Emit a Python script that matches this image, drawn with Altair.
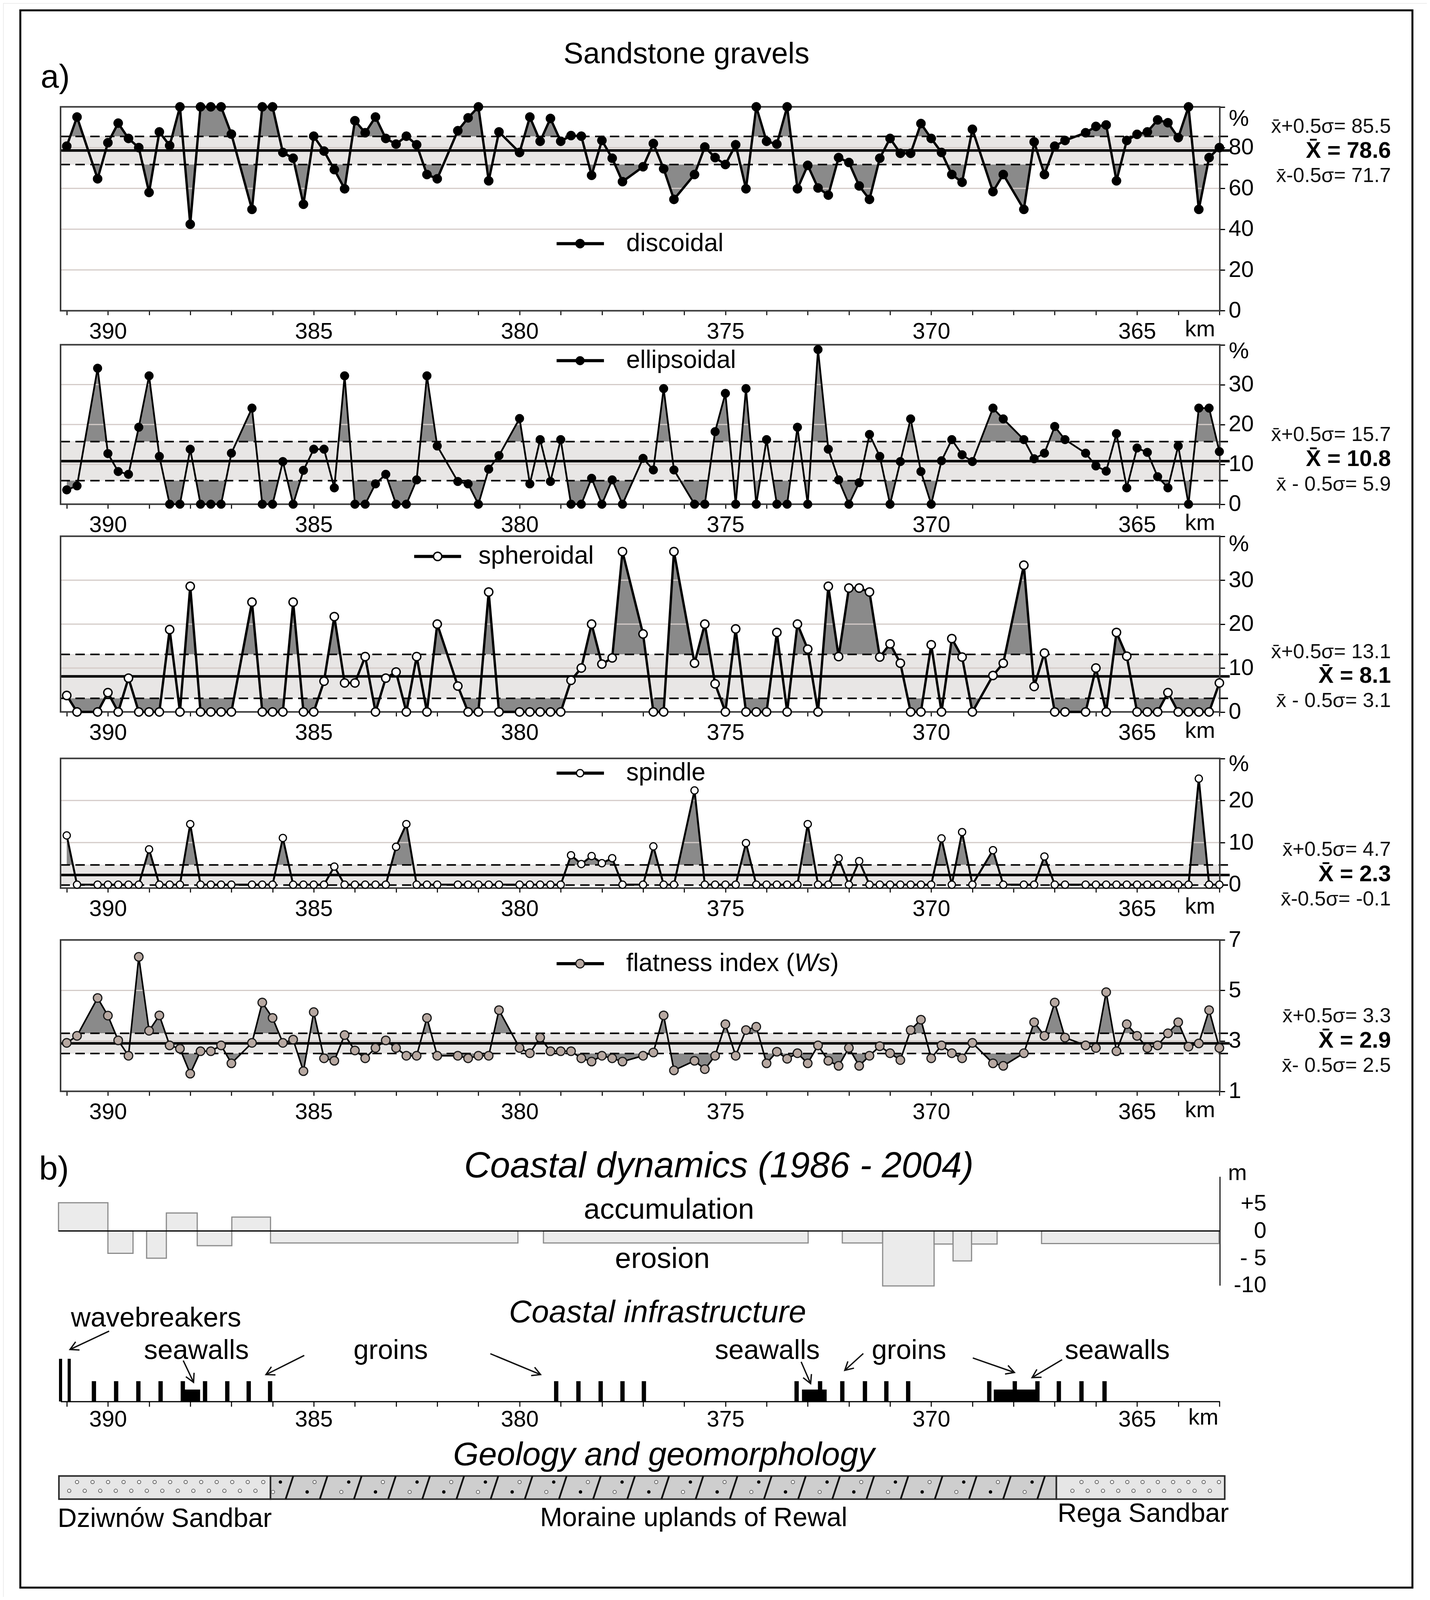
import math
import altair as alt
import pandas as pd

# The photographed page is 3660 px wide and 4096 px tall, so the whole figure is laid out
# to fit that height (vertical layout of the reference scaled by SY).
W, H = 3644, 4080
SY = 4096 / 5407
FONT = "Liberation Sans"
FILL = "#8a8a8a"
BAND = "#e8e6e5"
GRIDC = "#d4cbc8"


def py(o):
    """reference-page y (px) -> plot y (px)"""
    return round(o * SY - 8, 1)


# ---------------- data: sampling positions along the coast (km) ----------------
KM = [391.0, 390.75, 390.25, 390.0, 389.75, 389.5, 389.25, 389.0, 388.75, 388.5, 388.25, 388.0, 387.75, 387.5, 387.25, 387.0,
      386.5, 386.25, 386.0, 385.75, 385.5, 385.25, 385.0, 384.75, 384.5, 384.25, 384.0, 383.75, 383.5, 383.25, 383.0, 382.75, 382.5, 382.25, 382.0,
      381.5, 381.25, 381.0, 380.75, 380.5,
      380.0, 379.75, 379.5, 379.25, 379.0, 378.75, 378.5, 378.25, 378.0, 377.75, 377.5,
      377.0, 376.75, 376.5, 376.25,
      375.75, 375.5, 375.25, 375.0, 374.75, 374.5, 374.25, 374.0, 373.75, 373.5, 373.25, 373.0, 372.75, 372.5, 372.25, 372.0,
      371.75, 371.5, 371.25, 371.0, 370.75, 370.5, 370.25, 370.0, 369.75, 369.5, 369.25, 369.0,
      368.5, 368.25,
      367.75, 367.5, 367.25, 367.0, 366.75,
      366.25, 366.0, 365.75, 365.5, 365.25, 365.0, 364.75, 364.5, 364.25, 364.0, 363.75, 363.5, 363.25, 363.0]

DISC = [80.7, 95, 64.7, 82.4, 92, 84.5, 80, 58, 87.7, 81, 100, 42.4, 100, 100, 100, 86.6,
        49.7, 100, 100, 77.6, 74.8, 52.2, 85.6, 78.3, 69.2, 59.8, 93.2, 87.3, 95, 84.5, 81.7, 85.6, 81.4, 66.8, 64.7,
        88.3, 94.6, 100, 63.7, 87.7,
        77.6, 95, 83.1, 94.3, 83.1, 85.9, 85.6, 66.4, 83.5, 74.8, 63.3,
        70.6, 82, 69.6, 54.6,
        66.8, 80.3, 75.1, 71.7, 81.4, 59.8, 100, 83.1, 81.7, 100, 59.8, 71.3, 60.2, 56.7, 75.1, 72.7, 61.2, 54.6, 74.8, 84.5,
        77.2, 77.2, 91.8, 84.5, 77.6, 66.8, 63, 89,
        58.4, 66.8,
        49.7, 82.8, 66.8, 80.7, 83.5,
        87.3, 90.4, 91.1, 63.7, 83.5, 86.5, 87.7, 93.6, 92.2, 84.9, 100, 49.7, 75.1, 80]

ELL = [3.6, 4.6, 34.1, 12.7, 8.2, 7.5, 19.3, 32.2, 12, 0, 0, 13.8, 0, 0, 0, 12.8,
       24.1, 0, 0, 10.7, 0, 8.5, 13.8, 13.8, 4.1, 32.2, 0, 0, 5.1, 7.5, 0, 0, 6.1, 32.2, 14.6,
       5.7, 5.1, 0, 8.8, 12.2,
       21.5, 5.1, 16.2, 5.7, 16.2, 0, 0, 6.5, 0, 6.1, 0,
       11.5, 8.6, 29, 8.6,
       0, 0, 18.2, 27.8, 0, 29, 0, 16.2, 0, 0, 19.3, 0, 38.8, 13.8, 6.1, 0, 5.4, 17.5, 12, 0,
       10.7, 21.4, 8.2, 0, 10.9, 16.2, 12.4, 10.7,
       24.1, 21.4,
       16.2, 11.4, 12.8, 19.5, 16.2,
       12.8, 9.6, 8.3, 17.7, 4.1, 14.1, 13, 6.9, 4.1, 14.6, 0, 24.1, 24.1, 13.2]

SPH = [3.75, 0, 0, 4.4, 0, 7.7, 0, 0, 0, 18.75, 0, 28.6, 0, 0, 0, 0,
       25, 0, 0, 0, 25, 0, 0, 7, 21.7, 6.6, 6.6, 12.6, 0, 7.7, 9.1, 0, 12.6, 0, 20,
       5.9, 0, 0, 27.3, 0,
       0, 0, 0, 0, 0, 7.2, 10, 20, 10.9, 12.3, 36.5,
       17.75, 0, 0, 36.5,
       11.1, 20, 6.4, 0, 18.9, 0, 0, 0, 18.1, 0, 20, 14.3, 0, 28.6, 12.6, 28.2, 28.2, 27.3, 12.5, 15.5,
       11.1, 0, 0, 15.3, 0, 16.7, 12.5, 0,
       8.3, 11.1,
       33.4, 5.8, 13.4, 0, 0,
       0, 10, 0, 18.1, 12.7, 0, 0, 0, 4.4, 0, 0, 0, 0, 6.6]

SPIN = [11.7, 0, 0, 0, 0, 0, 0, 8.4, 0, 0, 0, 14.4, 0, 0, 0, 0,
        0, 0, 0, 11.1, 0, 0, 0, 0, 4.3, 0, 0, 0, 0, 0, 9, 14.4, 0, 0, 0,
        0, 0, 0, 0, 0,
        0, 0, 0, 0, 0, 7.0, 4.9, 6.8, 5.1, 6.3, 0,
        0, 9.1, 0, 0,
        22.4, 0, 0, 0, 0, 9.9, 0, 0, 0, 0, 0, 14.4, 0, 0, 6.3, 0, 5.6, 0, 0, 0, 0, 0, 0, 0, 11, 0, 12.5, 0,
        8.2, 0,
        0, 0, 6.7, 0, 0,
        0, 0, 0, 0, 0, 0, 0, 0, 0, 0, 0, 25.2, 0, 0]

FLAT = [2.92, 3.2, 4.7, 4.0, 3.02, 2.41, 6.33, 3.4, 4.01, 2.82, 2.69, 1.7, 2.59, 2.59, 2.82, 2.11,
        2.92, 4.52, 3.91, 2.92, 3.05, 1.8, 4.14, 2.31, 2.21, 3.23, 2.62, 2.31, 2.72, 3.02, 2.72, 2.41, 2.41, 3.91, 2.41,
        2.41, 2.31, 2.41, 2.41, 4.22,
        2.72, 2.51, 3.13, 2.59, 2.59, 2.59, 2.31, 2.18, 2.41, 2.31, 2.18,
        2.41, 2.54, 4.01, 1.83,
        2.21, 1.88, 2.41, 3.66, 2.41, 3.43, 3.56, 2.11, 2.57, 2.29, 2.51, 2.11, 2.82, 2.21, 2.01, 2.72, 2.01, 2.41, 2.79, 2.51,
        2.24, 3.43, 3.84, 2.31, 2.82, 2.51, 2.31, 2.92,
        2.11, 2.01,
        2.51, 3.74, 3.2, 4.52, 3.13,
        2.82, 2.72, 4.93, 2.59, 3.66, 3.2, 2.72, 2.82, 3.3, 3.74, 2.77, 2.9, 4.22, 2.72]

SERIES = [DISC, ELL, SPH, SPIN, FLAT]
for s in SERIES:
    assert len(s) == len(KM)

MEAN = [78.6, 10.8, 8.1, 2.3, 2.9]
UPPER = [85.5, 15.7, 13.1, 4.7, 3.3]
LOWER = [71.7, 5.9, 3.1, -0.1, 2.5]
NAMES = ["discoidal", "ellipsoidal", "spheroidal", "spindle", "flatness index ("]
LOW_TXT = ["x\u0304-0.5\u03c3= ", "x\u0304 - 0.5\u03c3= ", "x\u0304 - 0.5\u03c3= ", "x\u0304-0.5\u03c3= ", "x\u0304- 0.5\u03c3= "]
Y_TICKS = [[0, 20, 40, 60, 80, 100], [0, 10, 20, 30, 40], [0, 10, 20, 30, 40], [0, 10, 20, 30], [1, 3, 5, 7]]
Y_HIDE = [100, 40, 40, 30, -99]
GRID_VALS = [[20, 40, 60, 80], [10, 20, 30], [10, 20, 30], [10, 20], [3, 5]]
X_TICKS = list(range(363, 392))

# coastal dynamics 1986-2004 (m)
DYN_START = [391.2, 390.0, 389.06, 388.58, 387.83, 386.99, 386.05, 379.42, 372.16, 371.18, 369.93, 369.47, 369.02, 367.32]
DYN_END = [390.0, 389.39, 388.58, 387.83, 386.99, 386.05, 380.04, 372.99, 371.18, 369.93, 369.47, 369.02, 368.40, 363.01]
DYN_VAL = [5.2, -4.1, -5.0, 3.3, -2.7, 2.55, -2.2, -2.2, -2.2, -10.1, -2.4, -5.5, -2.4, -2.3]
DYN_TICKS = [5, 0, -5, -10]

# coastal infrastructure (km)
WAVE_KM = [391.15, 390.94]
GROIN_KM = [390.34, 389.80, 389.26, 388.72, 388.18, 387.64, 387.10, 386.58, 386.06,
            379.11, 378.57, 378.03, 377.50, 376.98,
            373.27, 372.70, 372.16, 371.61, 371.09, 370.56,
            368.59, 367.97, 367.42, 366.90, 366.35, 365.79]
SEAWALL_START = [388.22, 373.14, 368.48]
SEAWALL_END = [387.76, 372.54, 367.39]

# geology
GEO_NAMES = ["Dziwnów Sandbar", "Moraine uplands of Rewal", "Rega Sandbar"]
GEO_START = [391.19, 386.05, 366.96]
GEO_END = [386.05, 366.96, 362.87]

# ---------------- layout ----------------
X_DOM = [391.15, 362.99]
X_RNG = [147, 3114]
PXKM = (X_RNG[1] - X_RNG[0]) / (X_DOM[0] - X_DOM[1])
PANEL_DOM = [[0, 100], [0, 40], [0, 40], [-0.8, 30], [1, 7]]
PANEL_RNG = [[py(1050), py(361)], [py(1704), py(1165)], [py(2406), py(1812)], [py(3001), py(2563)], [py(3688), py(3176.5)]]
PCT_V = [94, 38.3, 38.1, 28.6, None]
STAT_V = [[90.4, 78.3, 66.2], [17.4, 11.2, 5.0], [13.7, 8.1, 2.5], [8.3, 2.4, -3.5], [3.98, 3.0, 2.02]]
LEG_V = [32.9, 36, 35.4, 26.5, 6.06]
LEG_X0 = [379.1, 379.1, 382.56, 379.1, 379.1]
LEG_X1 = [377.95, 377.95, 381.42, 377.95, 377.95]
LEG_PT = [378.53, 378.53, 381.99, 378.53, 378.53]
LEG_TX = [377.41, 377.41, 381.0, 377.41, 377.41]
LEG_FS = 64
LW = [6, 4.5, 6, 5, 4]
PT = [dict(fill="black", stroke="black", sw=1, size=560),
      dict(fill="black", stroke="black", sw=1, size=500),
      dict(fill="white", stroke="black", sw=3.5, size=450),
      dict(fill="white", stroke="black", sw=3, size=340),
      dict(fill="#b7a8a1", stroke="#1a1a1a", sw=3, size=480)]

DYN_DOM, DYN_RNG = [-10, 10], [py(4344), py(3976)]
INF_DOM, INF_RNG = [0, 10], [py(4736), py(4592)]
GEO_DOM, GEO_RNG = [0, 1], [py(5066), py(4988)]

TICK_FS = 58
STAT_FS, MEAN_FS = 52, 58


def xs():
    return alt.Scale(domain=X_DOM, range=X_RNG, nice=False, zero=False)


def sc(dom, rng):
    return alt.Scale(domain=dom, range=rng, nice=False, zero=False)


def xd(v):
    return alt.XDatum(v, scale=xs(), axis=None)


def xaxis(ybottom, tick=11, pad=14, domain=False):
    return alt.Axis(orient="bottom", offset=ybottom - H, values=X_TICKS,
                    labelExpr="datum.value % 5 === 0 ? datum.label : ''",
                    domain=domain, domainColor="black", domainWidth=3,
                    ticks=True, tickSize=tick, tickWidth=3, tickColor="#1e1e1e",
                    labelFont=FONT, labelFontSize=TICK_FS, labelColor="black", labelPadding=pad,
                    labelOverlap=False, grid=False, title=None)


def yaxis(vals, expr):
    return alt.Axis(orient="right", offset=X_RNG[1] - W, values=vals, labelExpr=expr,
                    domain=True, domainColor="black", domainWidth=3,
                    ticks=True, tickSize=13, tickWidth=3, tickColor="black",
                    labelFont=FONT, labelFontSize=TICK_FS, labelColor="black", labelPadding=9,
                    labelBaseline="middle", labelOverlap=False, grid=False, title=None)


ONE = pd.DataFrame({"o": [0]})
LAY = []

# ---------------- panel a ----------------
for p in range(5):
    dom, rng = PANEL_DOM[p], PANEL_RNG[p]

    def ys(dom=dom, rng=rng):
        return sc(dom, rng)

    df = pd.DataFrame({"km": KM, "v": SERIES[p]})
    U, M, Lo = UPPER[p], MEAN[p], LOWER[p]
    st = PT[p]

    # gray fill between curve and upper threshold (the part inside the band is covered by the band)
    LAY.append(alt.Chart(df).mark_area(color=FILL, opacity=1).encode(
        x=alt.X("km:Q", scale=xs(), axis=None),
        y=alt.Y("v:Q", scale=ys(), axis=None),
        y2=alt.Y2Datum(U)))
    # band between thresholds
    LAY.append(alt.Chart(ONE).mark_rect(color=BAND, opacity=1).encode(
        x=xd(X_DOM[0]), x2=alt.X2Datum(X_DOM[1]),
        y=alt.YDatum(Lo, scale=ys(), axis=None), y2=alt.Y2Datum(U)))
    # grid
    LAY.append(alt.Chart(pd.DataFrame({"g": GRID_VALS[p]})).mark_rule(color=GRIDC, strokeWidth=3).encode(
        x=xd(X_DOM[0]), x2=alt.X2Datum(X_DOM[1]),
        y=alt.Y("g:Q", scale=ys(), axis=None)))
    # threshold lines
    LAY.append(alt.Chart(pd.DataFrame({"t": [U, Lo]})).mark_rule(color="black", strokeWidth=4, strokeDash=[24, 14]).encode(
        x=xd(X_DOM[0]), x2=alt.X2Datum(362.75),
        y=alt.Y("t:Q", scale=ys(), axis=None)))
    LAY.append(alt.Chart(pd.DataFrame({"t": [M]})).mark_rule(color="black", strokeWidth=6.5).encode(
        x=xd(X_DOM[0]), x2=alt.X2Datum(362.75),
        y=alt.Y("t:Q", scale=ys(), axis=None)))
    # frame
    LAY.append(alt.Chart(ONE).mark_rect(fill="white", fillOpacity=0, stroke="#3a3a3a", strokeWidth=4).encode(
        x=xd(X_DOM[0]), x2=alt.X2Datum(X_DOM[1]),
        y=alt.YDatum(dom[0], scale=ys(), axis=None), y2=alt.Y2Datum(dom[1])))
    # line with axes
    expr = "datum.value == %s ? '' : datum.label" % Y_HIDE[p]
    LAY.append(alt.Chart(df).mark_line(color="black", strokeWidth=LW[p]).encode(
        x=alt.X("km:Q", scale=xs(), axis=xaxis(rng[0])),
        y=alt.Y("v:Q", scale=ys(), axis=yaxis(Y_TICKS[p], expr))))
    # points
    LAY.append(alt.Chart(df).mark_point(shape="circle", filled=True, fill=st["fill"], stroke=st["stroke"],
                                        strokeWidth=st["sw"], size=st["size"], opacity=1).encode(
        x=alt.X("km:Q", scale=xs(), axis=None),
        y=alt.Y("v:Q", scale=ys(), axis=None)))
    # legend sample
    LAY.append(alt.Chart(ONE).mark_rule(color="black", strokeWidth=8).encode(
        x=xd(LEG_X0[p]), x2=alt.X2Datum(LEG_X1[p]),
        y=alt.YDatum(LEG_V[p], scale=ys(), axis=None)))
    LAY.append(alt.Chart(ONE).mark_point(shape="circle", filled=True, fill=st["fill"], stroke=st["stroke"],
                                         strokeWidth=st["sw"], size=st["size"], opacity=1).encode(
        x=xd(LEG_PT[p]), y=alt.YDatum(LEG_V[p], scale=ys(), axis=None)))
    LAY.append(alt.Chart(ONE).mark_text(text=NAMES[p], font=FONT, fontSize=LEG_FS, align="left", baseline="middle",
                                        color="black").encode(
        x=xd(LEG_TX[p]), y=alt.YDatum(LEG_V[p], scale=ys(), axis=None)))
    if p == 4:
        # "(Ws)" with the symbol in italics: offsets from Arial-compatible advance widths
        w1 = 6.725 * LEG_FS / PXKM        # "flatness index ("
        w2 = 1.444 * LEG_FS / PXKM        # "Ws" (italic)
        LAY.append(alt.Chart(ONE).mark_text(text="Ws", font=FONT, fontSize=LEG_FS, fontStyle="italic",
                                            align="left", baseline="middle", color="black").encode(
            x=xd(LEG_TX[p] - w1), y=alt.YDatum(LEG_V[p], scale=ys(), axis=None)))
        LAY.append(alt.Chart(ONE).mark_text(text=")", font=FONT, fontSize=LEG_FS,
                                            align="left", baseline="middle", color="black").encode(
            x=xd(LEG_TX[p] - w1 - w2), y=alt.YDatum(LEG_V[p], scale=ys(), axis=None)))
    # % sign
    if PCT_V[p] is not None:
        LAY.append(alt.Chart(ONE).mark_text(text="%", font=FONT, fontSize=TICK_FS, align="left", baseline="middle",
                                            color="black").encode(
            x=alt.value(3137), y=alt.YDatum(PCT_V[p], scale=ys(), axis=None)))
    # km label
    LAY.append(alt.Chart(ONE).mark_text(text="km", font=FONT, fontSize=TICK_FS, align="center", baseline="middle",
                                        dy=49, color="black").encode(
        x=xd(363.47), y=alt.YDatum(dom[0], scale=ys(), axis=None)))
    # statistics labels
    sdf = pd.DataFrame({"t": ["x\u0304+0.5\u03c3= " + str(U), LOW_TXT[p] + str(Lo)],
                        "v": [STAT_V[p][0], STAT_V[p][2]]})
    LAY.append(alt.Chart(sdf).mark_text(font=FONT, fontSize=STAT_FS, align="right", baseline="middle",
                                        color="#111").encode(
        x=alt.value(3552), y=alt.Y("v:Q", scale=ys(), axis=None), text="t:N"))
    LAY.append(alt.Chart(ONE).mark_text(text="X\u0304 = " + str(M), font=FONT, fontSize=MEAN_FS, fontWeight="bold",
                                        align="right", baseline="middle", color="black").encode(
        x=alt.value(3552), y=alt.YDatum(STAT_V[p][1], scale=ys(), axis=None)))

# ---------------- panel b: coastal dynamics ----------------


def dys():
    return sc(DYN_DOM, DYN_RNG)


dyn = pd.DataFrame({"s": DYN_START, "e": DYN_END, "v": DYN_VAL})
LAY.append(alt.Chart(dyn).mark_rect(fill="#ebebeb", stroke="#8c8c8c", strokeWidth=3).encode(
    x=alt.X("s:Q", scale=xs(), axis=None), x2="e:Q",
    y=alt.Y("v:Q", scale=dys(), axis=alt.Axis(
        orient="right", offset=X_RNG[1] - W, values=DYN_TICKS,
        labelExpr="datum.value == 5 ? '+5' : (datum.value == -5 ? '- 5' : (datum.value == -10 ? '-10' : '0'))",
        domain=True, domainColor="#222", domainWidth=3, ticks=False, tickSize=0,
        labelAlign="right", labelPadding=119, labelFont=FONT, labelFontSize=58, labelColor="black",
        labelBaseline="middle", labelOverlap=False, grid=False, title=None)),
    y2=alt.Y2Datum(0)))
LAY.append(alt.Chart(ONE).mark_rule(color="black", strokeWidth=3).encode(
    x=xd(391.2), x2=alt.X2Datum(X_DOM[1]), y=alt.YDatum(0, scale=dys(), axis=None)))
LAY.append(alt.Chart(ONE).mark_text(text="m", font=FONT, fontSize=58, align="left", baseline="middle").encode(
    x=alt.value(3135), y=alt.YDatum(10.6, scale=dys(), axis=None)))
LAY.append(alt.Chart(pd.DataFrame({"t": ["accumulation", "erosion"], "km": [376.37, 376.53], "v": [3.86, -5.2]}))
           .mark_text(font=FONT, fontSize=74, align="center", baseline="middle").encode(
    x=alt.X("km:Q", scale=xs(), axis=None), y=alt.Y("v:Q", scale=dys(), axis=None), text="t:N"))

# ---------------- panel b: coastal infrastructure ----------------


def ins():
    return sc(INF_DOM, INF_RNG)


LAY.append(alt.Chart(pd.DataFrame({"km": GROIN_KM})).mark_rule(color="black", strokeWidth=11).encode(
    x=alt.X("km:Q", scale=xs(), axis=xaxis(INF_RNG[0], tick=13, pad=5, domain=True)),
    y=alt.YDatum(0, scale=ins(), axis=None), y2=alt.Y2Datum(4.76)))
LAY.append(alt.Chart(pd.DataFrame({"km": WAVE_KM})).mark_rule(color="black", strokeWidth=8).encode(
    x=alt.X("km:Q", scale=xs(), axis=None),
    y=alt.YDatum(0, scale=ins(), axis=None), y2=alt.Y2Datum(10)))
LAY.append(alt.Chart(pd.DataFrame({"s": SEAWALL_START, "e": SEAWALL_END})).mark_rect(color="black").encode(
    x=alt.X("s:Q", scale=xs(), axis=None), x2="e:Q",
    y=alt.YDatum(0, scale=ins(), axis=None), y2=alt.Y2Datum(2.8)))
LAY.append(alt.Chart(ONE).mark_text(text="km", font=FONT, fontSize=TICK_FS, align="center", baseline="middle",
                                    dy=42).encode(
    x=xd(363.39), y=alt.YDatum(0, scale=ins(), axis=None)))

INFRA_TEXT = ["wavebreakers", "seawalls", "groins", "seawalls", "groins", "seawalls"]
INFRA_TKM = [388.83, 387.85, 383.13, 373.98, 370.54, 365.48]
INFRA_TU = [19.5, 11.9, 11.9, 11.9, 11.9, 11.9]
LAY.append(alt.Chart(pd.DataFrame({"t": INFRA_TEXT, "km": INFRA_TKM, "u": INFRA_TU}))
           .mark_text(font=FONT, fontSize=70, align="center", baseline="middle").encode(
    x=alt.X("km:Q", scale=xs(), axis=None), y=alt.Y("u:Q", scale=ins(), axis=None), text="t:N"))

ARR_KM1 = [389.97, 388.17, 385.23, 380.71, 373.16, 371.65, 368.99, 366.82]
ARR_U1 = [16.5, 9.6, 10.8, 11.2, 9.3, 11.25, 10.2, 9.8]
ARR_KM2 = [390.92, 387.92, 386.16, 379.49, 372.93, 372.10, 367.98, 367.55]
ARR_U2 = [12.2, 4.5, 6.3, 6.3, 4.2, 7.3, 6.8, 5.6]
PXU = (INF_RNG[0] - INF_RNG[1]) / (INF_DOM[1] - INF_DOM[0])
ANG = []
for a, b, c, d in zip(ARR_KM1, ARR_U1, ARR_KM2, ARR_U2):
    dx = -(c - a) * PXKM
    dy = -(d - b) * PXU
    ANG.append(math.degrees(math.atan2(-dx, dy)) % 360)
arr = pd.DataFrame({"k1": ARR_KM1, "u1": ARR_U1, "k2": ARR_KM2, "u2": ARR_U2, "ang": ANG})
LAY.append(alt.Chart(arr).mark_rule(color="#111", strokeWidth=3.5).encode(
    x=alt.X("k1:Q", scale=xs(), axis=None), x2="k2:Q",
    y=alt.Y("u1:Q", scale=ins(), axis=None), y2="u2:Q"))
LAY.append(alt.Chart(arr).mark_point(shape="M -0.6 -1.1 L 0 0 L 0.6 -1.1", filled=False, color="#111",
                                     strokeWidth=3.5, size=1500, opacity=1).encode(
    x=alt.X("k2:Q", scale=xs(), axis=None), y=alt.Y("u2:Q", scale=ins(), axis=None),
    angle=alt.Angle("ang:Q", scale=None)))

# ---------------- panel b: geology ----------------


def gs():
    return sc(GEO_DOM, GEO_RNG)


geo = pd.DataFrame({"s": GEO_START, "e": GEO_END, "n": GEO_NAMES})
LAY.append(alt.Chart(geo).mark_rect(stroke="#2a2a2a", strokeWidth=4, opacity=1).encode(
    x=alt.X("s:Q", scale=xs(), axis=None), x2="e:Q",
    y=alt.YDatum(0, scale=gs(), axis=None), y2=alt.Y2Datum(1),
    color=alt.Color("n:N", scale=alt.Scale(domain=GEO_NAMES, range=["#e6e6e6", "#cecece", "#e6e6e6"]), legend=None)))

# sandbar pattern (small open circles)
for start1, start2, step, n in [(390.75, 390.94, 0.377, 26), (366.35, 366.57, 0.371, 20)]:
    LAY.append(alt.Chart(alt.sequence(0, n, as_="k")).transform_calculate(
        r="datum.k % 2", j="floor(datum.k / 2)",
        km="datum.r == 0 ? %s - %s * datum.j : %s - %s * datum.j" % (start1, step, start2, step),
        yy="datum.r == 0 ? 0.74 : 0.36").mark_point(
        shape="circle", filled=True, fill="white", stroke="#666", strokeWidth=2, size=75, opacity=1).encode(
        x=alt.X("km:Q", scale=xs(), axis=None), y=alt.Y("yy:Q", scale=gs(), axis=None)))

# moraine pattern: slanted strokes and dots
LAY.append(alt.Chart(alt.sequence(0, 23, as_="k")).transform_calculate(
    m="385.59 - 0.83 * datum.k", a="datum.m + 0.093", b="datum.m - 0.093").mark_rule(
    color="#111", strokeWidth=4.5).encode(
    x=alt.X("a:Q", scale=xs(), axis=None), x2="b:Q",
    y=alt.YDatum(0, scale=gs(), axis=None), y2=alt.Y2Datum(1)))
dots = alt.Chart(alt.sequence(-1, 22, as_="k")).transform_calculate(
    nx="385.59 - 0.83 * (datum.k + 1)", odd="(datum.k + 2) % 2 == 1",
    bk="datum.odd ? datum.nx + 0.22 : datum.nx + 0.40", by="datum.odd ? 0.74 : 0.31",
    wk="datum.odd ? datum.nx + 0.40 : datum.nx + 0.22", wy="datum.odd ? 0.31 : 0.74")
LAY.append(dots.mark_point(shape="circle", filled=True, color="black", size=75, opacity=1).encode(
    x=alt.X("bk:Q", scale=xs(), axis=None), y=alt.Y("by:Q", scale=gs(), axis=None)))
LAY.append(dots.mark_point(shape="circle", filled=True, fill="white", stroke="#666", strokeWidth=2, size=70,
                           opacity=1).encode(
    x=alt.X("wk:Q", scale=xs(), axis=None), y=alt.Y("wy:Q", scale=gs(), axis=None)))

for name, km, yv, al in [(GEO_NAMES[0], 391.22, -0.87, "left"), (GEO_NAMES[1], 375.77, -0.83, "center"),
                         (GEO_NAMES[2], 362.77, -0.64, "right")]:
    LAY.append(alt.Chart(ONE).mark_text(text=name, font=FONT, fontSize=68, align=al, baseline="middle").encode(
        x=xd(km), y=alt.YDatum(yv, scale=gs(), axis=None)))

# ---------------- titles and frame ----------------
TITLES = [("Sandstone gravels", 1749, py(184), 76, "normal", "center"),
          ("a)", 96, py(263), 84, "normal", "left"),
          ("b)", 92, py(3952), 86, "normal", "left"),
          ("Coastal dynamics (1986 - 2004)", 1832, py(3941), 92, "italic", "center"),
          ("Coastal infrastructure", 1675, py(4437), 80, "italic", "center"),
          ("Geology and geomorphology", 1691, py(4919), 84, "italic", "center")]
for t, x, y, fs, sty, al in TITLES:
    LAY.append(alt.Chart(ONE).mark_text(text=t, font=FONT, fontSize=fs, fontStyle=sty, align=al,
                                        baseline="middle", color="black").encode(
        x=alt.value(x), y=alt.value(y)))

LAY.append(alt.Chart(ONE).mark_rect(fill="white", fillOpacity=0, stroke="black", strokeWidth=5).encode(
    x=alt.value(44), x2=alt.value(3607), y=alt.value(py(35)), y2=alt.value(py(5365))))

chart = alt.layer(*LAY).resolve_scale(x="independent", y="independent", color="independent").properties(
    width=W, height=H, autosize=alt.AutoSizeParams(type="none"), padding=0, background="white"
).configure_view(strokeWidth=0).configure(font=FONT)

chart.save("out.html", embed_options={"renderer": "svg", "actions": False})
